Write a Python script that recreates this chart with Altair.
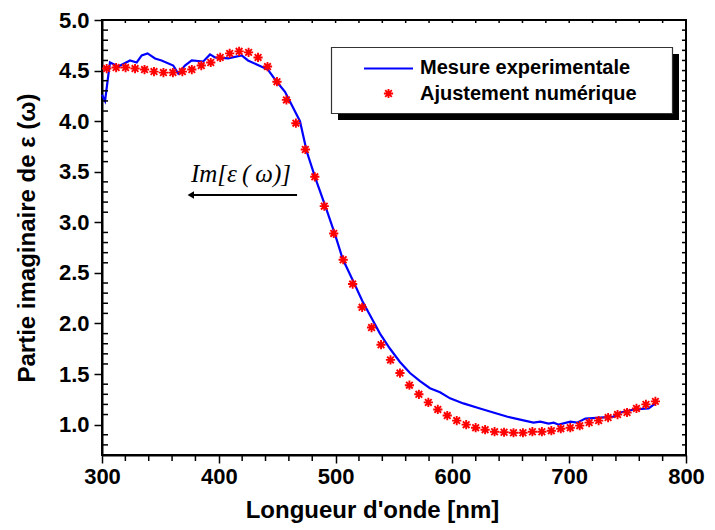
import altair as alt
import pandas as pd

# ---- data ----
mesure_x = [300, 302.6, 306.8, 314, 324, 329.7, 334, 339, 345.4, 351, 361, 365.3, 371,
            376.8, 386.7, 392.5, 396.7, 408, 419.6, 425, 442, 449.6, 456.7, 469.5, 475.3,
            483.2, 491.5, 499.5, 506, 515, 523, 531, 538, 546.6, 555.1, 563.7, 572.3,
            580.8, 589.4, 598, 609.4, 623.6, 635, 646.5, 658, 669.4, 675.3, 682.4, 686.7,
            691, 701, 706.7, 713.9, 726.7, 738.1, 743.8, 755.2, 768, 773.8]
mesure_y = [4.26, 4.20, 4.58, 4.54, 4.60, 4.58, 4.65, 4.67, 4.62, 4.60, 4.55, 4.47, 4.55,
            4.60, 4.59, 4.66, 4.63, 4.62, 4.65, 4.60, 4.51, 4.39, 4.29, 4.00, 3.70,
            3.42, 3.15, 2.88, 2.64, 2.42, 2.22, 2.05, 1.90, 1.75, 1.62, 1.51, 1.43,
            1.36, 1.32, 1.26, 1.21, 1.16, 1.12, 1.08, 1.05, 1.02, 1.03, 1.01, 1.02,
            1.00, 1.03, 1.02, 1.06, 1.07, 1.08, 1.12, 1.15, 1.16, 1.21]

ajust_x = [304, 312.1, 320.2, 328.3, 336.4, 344.5, 352.6, 360.7, 368.8, 376.9, 385, 393.1,
           401.2, 409.3, 417.4, 425.5, 433.6, 441.7, 449.8, 457.9, 466, 474.1, 482.2, 490.3,
           498.4, 506.5, 514.6, 522.7, 530.8, 538.9, 547, 555.1, 563.2, 571.3, 579.4, 587.5,
           595.6, 603.7, 611.8, 619.9, 628, 636.1, 644.2, 652.3, 660.4, 668.5, 676.6, 684.7,
           692.8, 700.9, 709, 717.1, 725.2, 733.3, 741.4, 749.5, 757.6, 765.7, 773.8]
ajust_y = [4.52, 4.53, 4.53, 4.52, 4.51, 4.49, 4.48, 4.48, 4.49, 4.51, 4.55, 4.58,
           4.63, 4.67, 4.69, 4.68, 4.63, 4.54, 4.39, 4.21, 3.98, 3.72, 3.45, 3.16,
           2.89, 2.63, 2.39, 2.16, 1.96, 1.79, 1.64, 1.51, 1.39, 1.30, 1.22, 1.15,
           1.09, 1.04, 1.00, 0.97, 0.95, 0.93, 0.925, 0.92, 0.92, 0.93, 0.93, 0.94,
           0.96, 0.97, 0.99, 1.02, 1.04, 1.07, 1.10, 1.12, 1.16, 1.20, 1.23]

series_names = ["Mesure experimentale", "Ajustement numérique"]
x_major = [300, 400, 500, 600, 700, 800]
x_minor = [320, 340, 360, 380, 420, 440, 460, 480, 520, 540, 560, 580,
           620, 640, 660, 680, 720, 740, 760, 780]
y_major = [1.0, 1.5, 2.0, 2.5, 3.0, 3.5, 4.0, 4.5, 5.0]
y_minor = [0.7, 0.8, 0.9, 1.1, 1.2, 1.3, 1.4, 1.6, 1.7, 1.8, 1.9, 2.1, 2.2, 2.3, 2.4,
           2.6, 2.7, 2.8, 2.9, 3.1, 3.2, 3.3, 3.4, 3.6, 3.7, 3.8, 3.9, 4.1, 4.2, 4.3,
           4.4, 4.6, 4.7, 4.8, 4.9]
annot_text = "Im[ε\u2009(\u2009ω)]"
annot_pos = {"x": 419, "y": 3.40}
arrow_from = 467
arrow_to = 373
arrow_y = 3.27

W, H = 584, 435
FONT = "Liberation Sans"
BLUE = "#0000ff"
RED = "#ff0000"
STAR = "M-1,0L1,0M0,-1L0,1M-0.72,-0.72L0.72,0.72M-0.72,0.72L0.72,-0.72"

df_m = pd.DataFrame({"x": mesure_x, "y": mesure_y})
df_a = pd.DataFrame({"x": ajust_x, "y": ajust_y})
df_xmin = pd.DataFrame({"x": x_minor})
df_xall = pd.DataFrame({"x": sorted(x_major + x_minor)})
df_ymin = pd.DataFrame({"y": y_minor})
df_yall = pd.DataFrame({"y": sorted(y_major + y_minor)})

xscale = alt.Scale(domain=[300, 800], nice=False, zero=False)
yscale = alt.Scale(domain=[0.7, 5.0], nice=False, zero=False)

xaxis = alt.Axis(
    values=x_major, tickSize=8, labelOverlap=False, labelFlush=False,
    title="Longueur d'onde [nm]", titleX=270, titleY=55, titleBaseline="middle",
    titleAlign="center", labelPadding=3, grid=False,
)
yaxis = alt.Axis(
    values=y_major, format=".1f", tickSize=8, labelOverlap=False, labelFlush=False,
    title="Partie imaginaire de ε (ω)", titleX=-75, titleY=H / 2, titleAngle=-90,
    titleBaseline="middle", titleAlign="center", labelPadding=5, grid=False,
)

X = lambda f: alt.X(f, scale=xscale, axis=xaxis)
Y = lambda f: alt.Y(f, scale=yscale, axis=yaxis)

line = alt.Chart(df_m).mark_line(color=BLUE, strokeWidth=2.2).encode(x=X("x:Q"), y=Y("y:Q"))
pts = alt.Chart(df_a).mark_point(shape=STAR, color=RED, filled=False, strokeWidth=1.9,
                                 size=85, opacity=1).encode(x=X("x:Q"), y=Y("y:Q"))

# minor / mirrored ticks
tk = dict(color="black", strokeWidth=1.5)
bot_minor = alt.Chart(df_xmin).mark_rule(**tk).encode(x=X("x:Q"), y=alt.value(H), y2=alt.value(H + 6))
left_minor = alt.Chart(df_ymin).mark_rule(**tk).encode(y=Y("y:Q"), x=alt.value(0), x2=alt.value(6))
top_ticks = alt.Chart(df_xall).mark_rule(**tk).encode(x=X("x:Q"), y=alt.value(0), y2=alt.value(3))
right_ticks = alt.Chart(df_yall).mark_rule(**tk).encode(y=Y("y:Q"), x=alt.value(W - 4), x2=alt.value(W))

one = pd.DataFrame({"k": [0]})

annot = alt.Chart(one).mark_text(
    text=annot_text, font="Liberation Serif", fontStyle="italic", fontSize=25,
    align="center", baseline="alphabetic", color="black",
).encode(x=alt.datum(annot_pos["x"], scale=xscale), y=alt.datum(annot_pos["y"], scale=yscale))

arrow = alt.Chart(one).mark_rule(color="black", strokeWidth=1.8).encode(
    x=alt.datum(arrow_from, scale=xscale), x2=alt.datum(arrow_to + 3),
    y=alt.datum(arrow_y, scale=yscale),
)
head = alt.Chart(one).mark_point(shape="triangle-left", filled=True, color="black",
                                 size=55, opacity=1).encode(
    x=alt.datum(arrow_to + 3, scale=xscale), y=alt.datum(arrow_y, scale=yscale),
)

# legend (decoration, pixel positions)
shadow = alt.Chart(one).mark_rect(color="black").encode(
    x=alt.value(236), x2=alt.value(577), y=alt.value(34), y2=alt.value(100))
box = alt.Chart(one).mark_rect(fill="white", stroke="#333333", strokeWidth=1.2).encode(
    x=alt.value(229.5), x2=alt.value(570.5), y=alt.value(27.5), y2=alt.value(93.5))
leg_line = alt.Chart(one).mark_rule(color=BLUE, strokeWidth=2.2).encode(
    x=alt.value(262), x2=alt.value(311), y=alt.value(48.5))
leg_star = alt.Chart(one).mark_point(shape=STAR, color=RED, filled=False, strokeWidth=1.9,
                                     size=85, opacity=1).encode(
    x=alt.value(286.5), y=alt.value(73.5))
leg_t1 = alt.Chart(one).mark_text(text=series_names[0], font=FONT, fontWeight="bold",
                                  fontSize=20, align="left", baseline="middle",
                                  color="black").encode(x=alt.value(318), y=alt.value(48))
leg_t2 = alt.Chart(one).mark_text(text=series_names[1], font=FONT, fontWeight="bold",
                                  fontSize=20, align="left", baseline="middle",
                                  color="black").encode(x=alt.value(318), y=alt.value(74))

chart = alt.layer(line, pts, bot_minor, left_minor, top_ticks, right_ticks, annot, arrow,
                  head, shadow, box, leg_line, leg_star, leg_t1, leg_t2).properties(
    width=W, height=H,
    autosize=alt.AutoSizeParams(type="none"),
    padding={"left": 94, "top": 12, "right": 21, "bottom": 70},
).configure_view(stroke="black", strokeWidth=2).configure_axis(
    domainColor="black", domainWidth=2, tickColor="black", tickWidth=1.5,
    labelFont=FONT, labelFontSize=22, labelFontWeight="bold", labelColor="black",
    titleFont=FONT, titleFontSize=24, titleFontWeight="bold", titleColor="black",
)

chart.save("out.html", embed_options={"renderer": "svg", "actions": False})
